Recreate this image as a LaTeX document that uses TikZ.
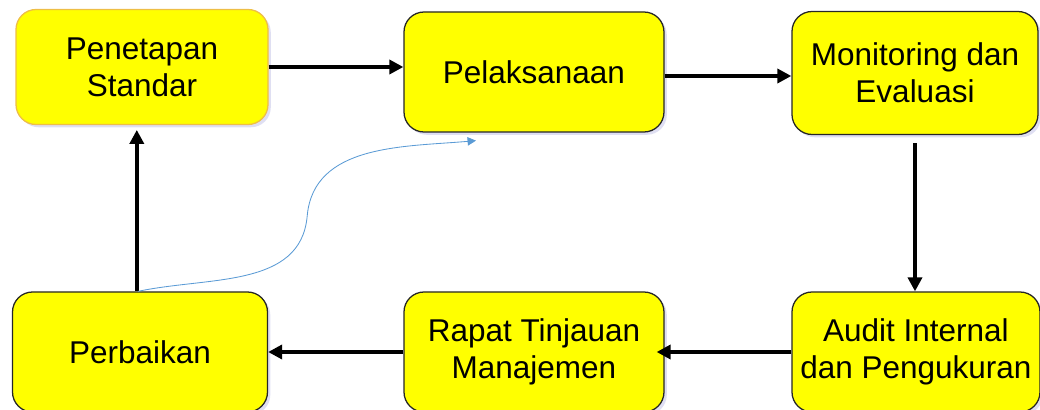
\documentclass[tikz,border=0pt]{standalone}
\usepackage{fontspec}
\setmainfont{Liberation Sans}
\usepackage{tikz}
\usetikzlibrary{arrows.meta, shadows, calc}
\usepackage{xcolor}
\definecolor{boxyellow}{RGB}{255,255,0}
\definecolor{goldline}{RGB}{238,190,70}
\definecolor{curveblue}{RGB}{91,155,213}

\begin{document}
\begin{tikzpicture}[
    font=\fontsize{22.4}{26.5}\selectfont,
    % Node styles
    stage/.style={rectangle, rounded corners=0.5cm, draw=black!85, line width=0.9pt, fill=boxyellow, align=center,
        drop shadow={shadow xshift=0.07cm, shadow yshift=-0.07cm, fill=black!40!blue!25}},
    arrow/.style={-{Triangle[length=10pt, width=10pt]}, line width=2.8pt, black},
    loop/.style={-{Triangle[length=6pt, width=6pt]}, line width=0.6pt, curveblue},
]

\useasboundingbox (0, 0) rectangle (26, 10.25);

% Top row
\node[stage, draw=goldline, minimum width=6.3cm, minimum height=2.875cm] (pen) at (3.55, 8.575) {Penetapan\\Standar};
\node[stage, minimum width=6.5cm, minimum height=3cm] (pel) at (13.35, 8.45) {Pelaksanaan};
\node[stage, minimum width=6.15cm, minimum height=3.075cm] (mon) at (22.875, 8.425) {Monitoring dan\\Evaluasi};

% Bottom row
\node[stage, minimum width=6.375cm, minimum height=3cm] (perb) at (3.5, 1.45) {Perbaikan};
\node[stage, minimum width=6.5cm, minimum height=3cm] (rapat) at (13.35, 1.45) {Rapat Tinjauan\\Manajemen};
\node[stage, minimum width=6.2cm, minimum height=3cm] (audit) at (22.9, 1.45) {Audit Internal\\dan Pengukuran};

% Cycle arrows
\draw[arrow] (pen.east) -- (pen.east -| pel.west);
\draw[arrow] ([yshift=-0.1cm]pel.east) -- ([yshift=-0.1cm]pel.east -| mon.west);
\draw[arrow, shorten <=0.2cm] (mon.south) -- (mon.south |- audit.north);
\draw[arrow] (audit.west) -- ([xshift=-0.2cm]audit.west -| rapat.east);
\draw[arrow] (rapat.west) -- (rapat.west -| perb.east);
\draw[arrow, shorten >=0.12cm] ([xshift=-0.08cm]perb.north) -- ([xshift=-0.08cm]perb.north |- pen.south);

% Feedback curve
\coordinate (bend) at (7.68, 4.85);
\coordinate (tip) at ($(pel.south)+(-1.45,-0.2)$);
\draw[loop] ([xshift=-0.05cm]perb.north) to[out=12, in=-95] (bend) to[out=85, in=-175] (tip);

\end{tikzpicture}
\end{document}
